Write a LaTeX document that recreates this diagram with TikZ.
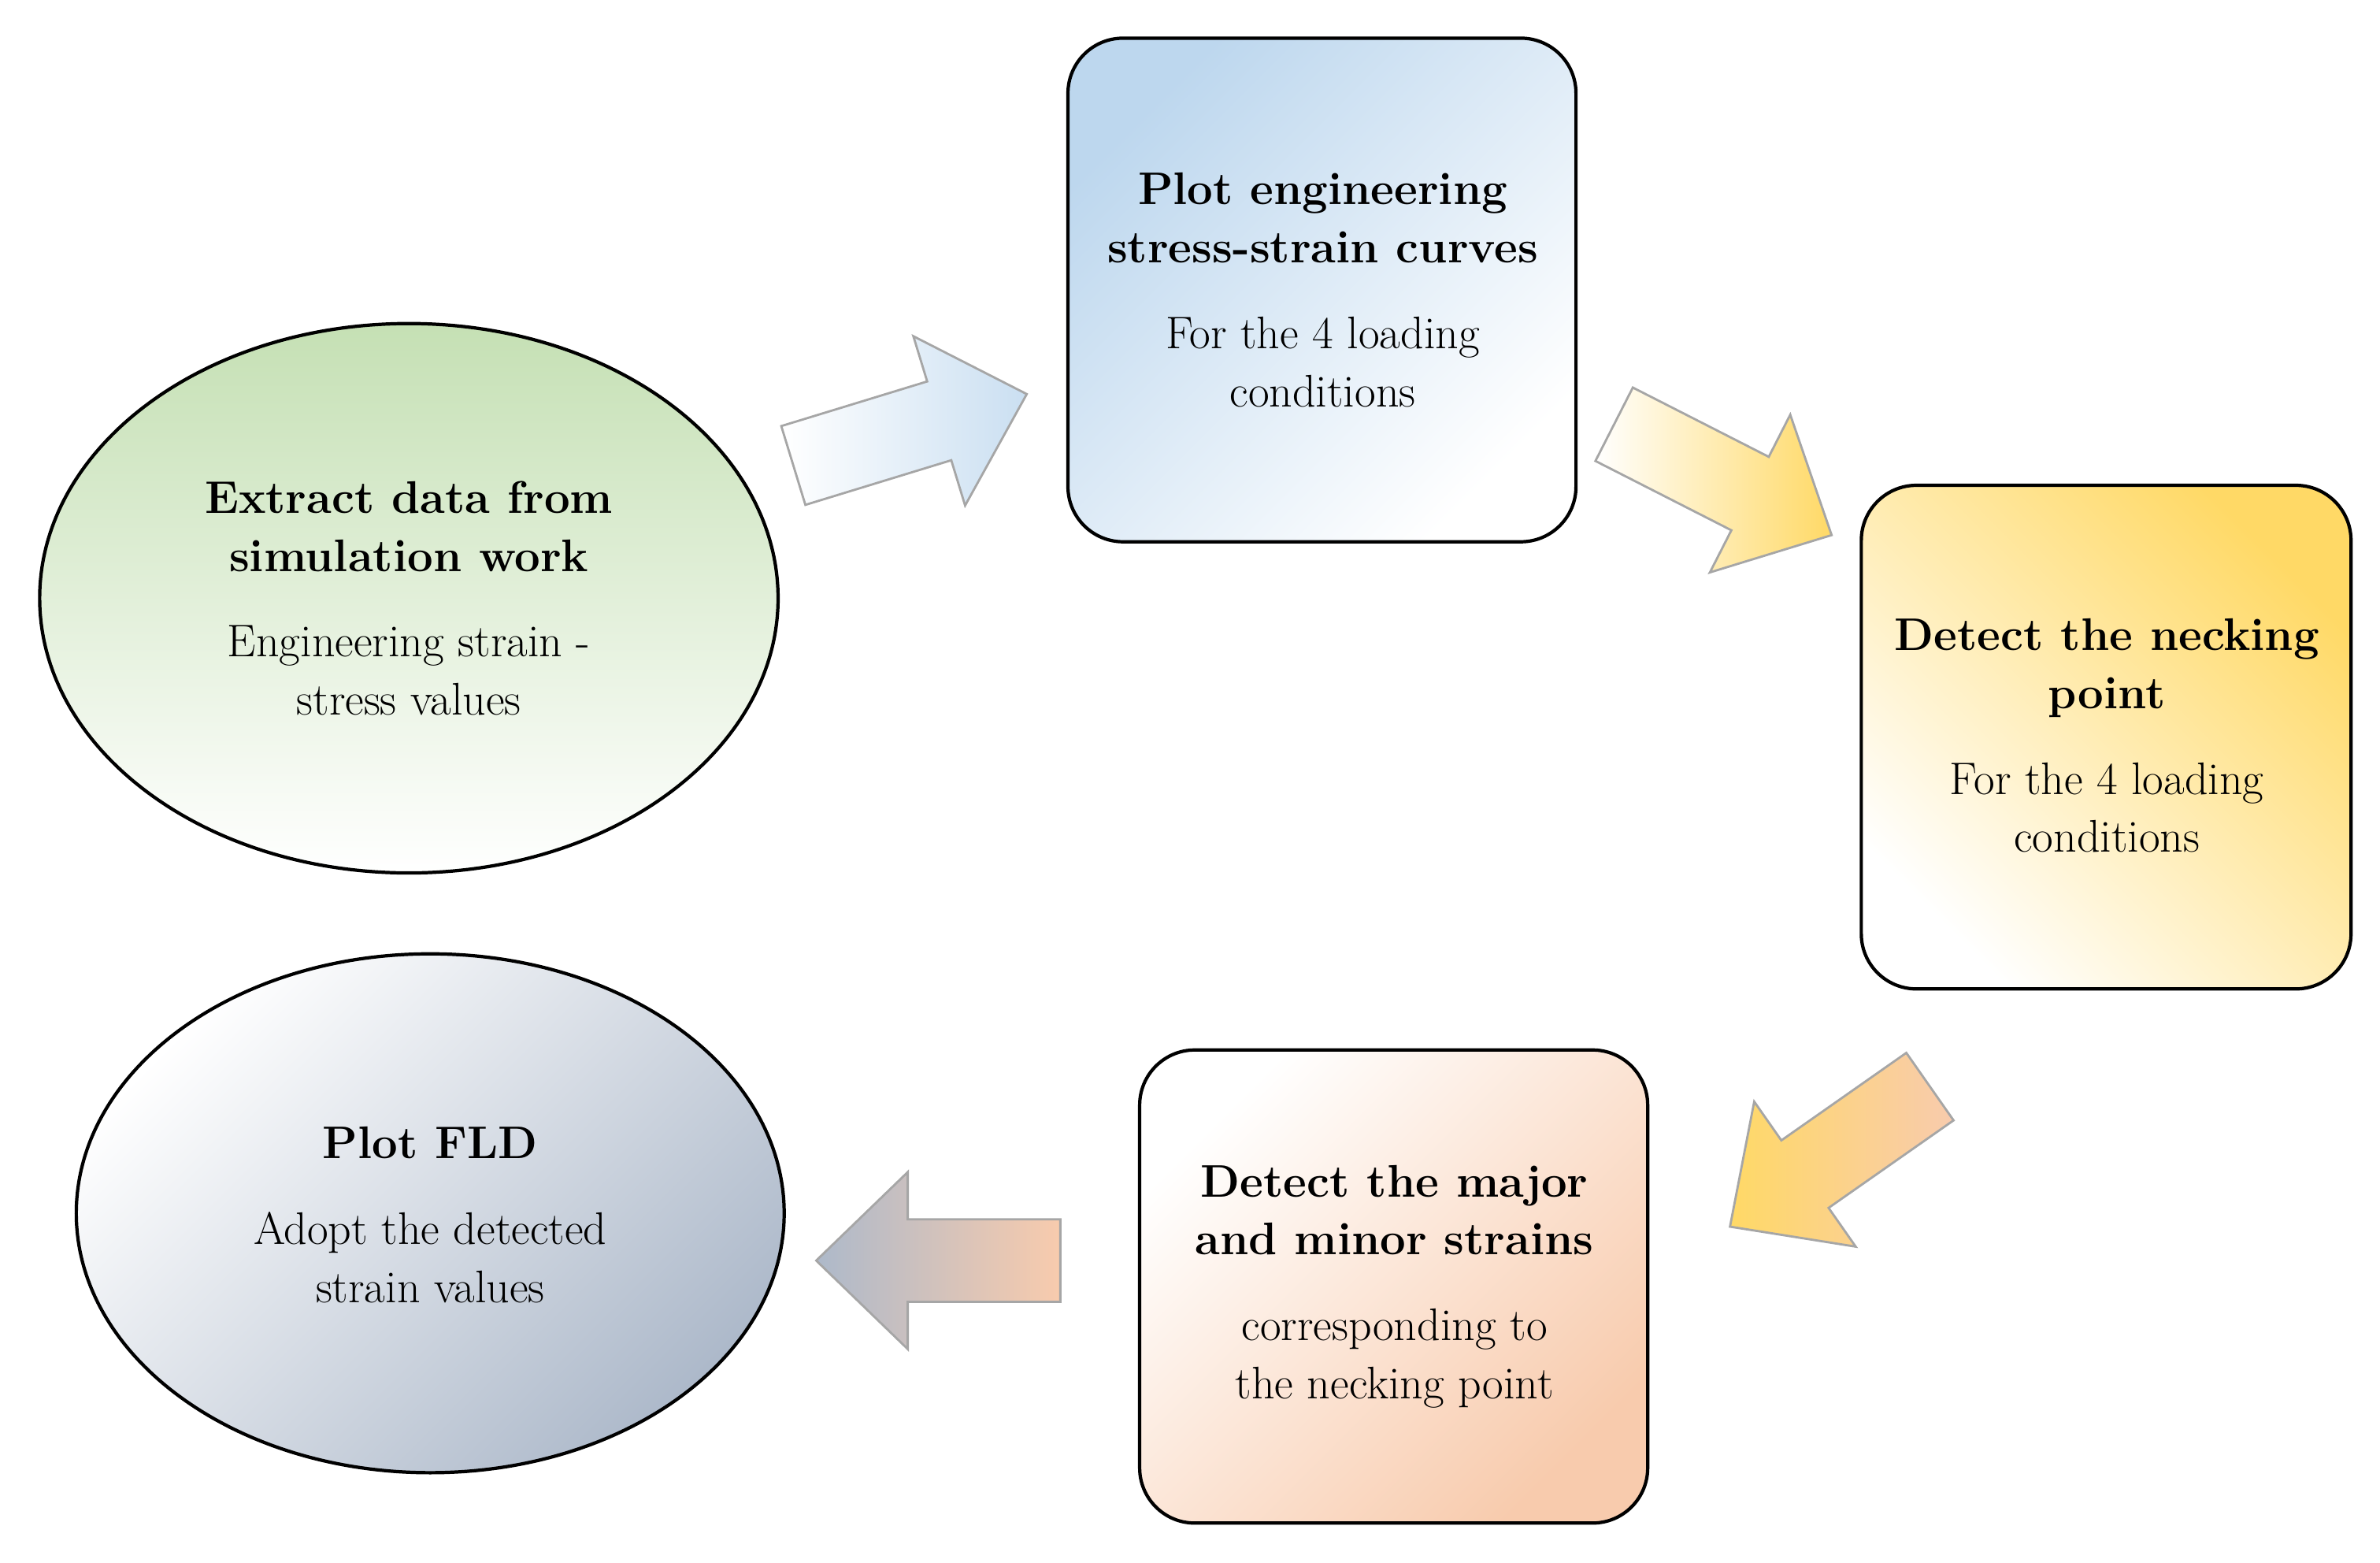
\documentclass[tikz,border=0pt]{standalone}
\begin{document}
\begin{tikzpicture}[x=0.01937cm,y=-0.01937cm,
  lab/.style={align=center,font=\fontsize{16.5}{21}\selectfont},
  bx/.style={draw=black,line width=1.2pt,rounded corners=0.7cm},
  el/.style={draw=black,line width=1.2pt},
  barrow/.pic={\path[draw=gray!70,line width=0.8pt,#1] (0,-27)--(100,-27)--(100,-58)--(160,0)--(100,58)--(100,27)--(0,27)--cycle;}]
\useasboundingbox (0,0) rectangle (1560,1024);
\definecolor{cgreen}{HTML}{C5E0B4}\definecolor{cblue}{HTML}{BDD7EE}
\definecolor{cyel}{HTML}{FFD966}\definecolor{cpeach}{HTML}{F8CBAD}\definecolor{cgray}{HTML}{ADB9CA}
% shapes
\shade[el,top color=cgreen,bottom color=white,shading angle=0] (268,392) ellipse [x radius=242,y radius=180];
\shade[bx,shading=axis,left color=cblue,right color=white,shading angle=45] (700,25) rectangle (1033,355);
\shade[bx,shading=axis,left color=white,right color=cyel,shading angle=135] (1220,318) rectangle (1541,648);
\shade[bx,shading=axis,left color=white,right color=cpeach,shading angle=45] (747,688) rectangle (1080,998);
\shade[el,left color=white,right color=cgray,shading angle=45] (282,795) ellipse [x radius=232,y radius=170];
% arrows
\pic[shift={(520,305)},rotate=17] {barrow={left color=white,right color=cblue!80}};
\pic[shift={(1058,278)},rotate=-27] {barrow={left color=white,right color=cyel}};
\pic[shift={(1265,712)},rotate=-145] {barrow={left color=cyel,right color=cpeach}};
\pic[shift={(695,826)},rotate=180] {barrow={left color=cgray,right color=cpeach}};
% texts
\node[lab] (t1) at (268,392) {\textbf{Extract data from}\\\textbf{simulation work}\\[0.35cm]Engineering strain -\\stress values};
\node[lab] (t2) at (867,190) {\textbf{Plot engineering}\\\textbf{stress-strain curves}\\[0.35cm]For the 4 loading\\conditions};
\node[lab] (t3) at (1381,482) {\textbf{Detect the necking}\\\textbf{point}\\[0.35cm]For the 4 loading\\conditions};
\node[lab] (t4) at (914,843) {\textbf{Detect the major}\\\textbf{and minor strains}\\[0.35cm]corresponding to\\the necking point};
\node[lab] (t5) at (282,796) {\textbf{Plot FLD}\\[0.35cm]Adopt the detected\\strain values};
\end{tikzpicture}
\end{document}
